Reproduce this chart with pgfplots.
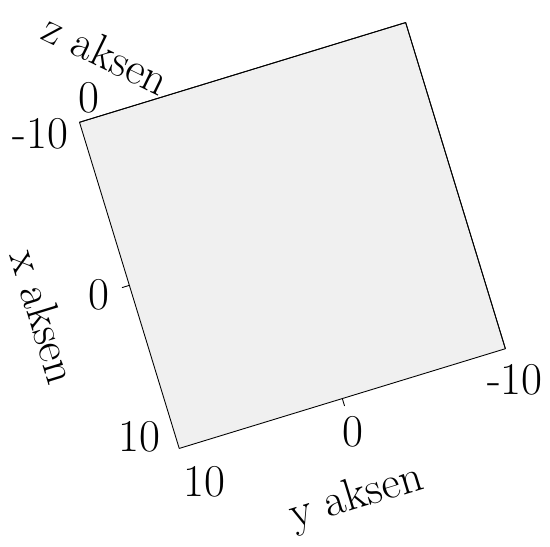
\documentclass[border=0pt]{standalone}
\usepackage{pgfplots}
\pgfplotsset{compat=1.18}
\begin{document}
\begin{tikzpicture}
\begin{axis}[
  view={-73}{-90},
  width=8.4cm, height=8.4cm,
  xmin=-10, xmax=10, ymin=-10, ymax=10,
  xtick={0}, ytick={0},
  xticklabels={0}, yticklabels={0},
  extra x ticks={-10,10}, extra x tick labels={-10,\raisebox{22pt}{10}},
  extra y ticks={-10,10}, extra y tick labels={-10,\hspace*{14pt}10},
  extra tick style={major tick length=0pt},
  xlabel={x aksen}, ylabel={y aksen},
  xlabel style={at={(axis cs:0.3,15.3,0)}, anchor=center, sloped like x axis},
  ylabel style={at={(axis cs:15.8,0.9,0)}, anchor=center, sloped like y axis},
  axis background/.style={fill=gray!12},
  every tick label/.style={font=\huge},
  label style={font=\huge},
  tick align=outside,
  tick pos=right,
  xticklabel pos=left, yticklabel pos=left,
  tick style={black, thin},
  major tick length=3.5pt,
  clip=false,
]
\addplot3[draw=none] coordinates {(0,0,0)};
\node[font=\huge, anchor=center] at (axis cs:-11.2,9.05,0) {0};
\node[font=\huge, rotate=-26, anchor=center] at (axis cs:-13.4,7.3,0) {z aksen};
\end{axis}
\end{tikzpicture}
\end{document}
